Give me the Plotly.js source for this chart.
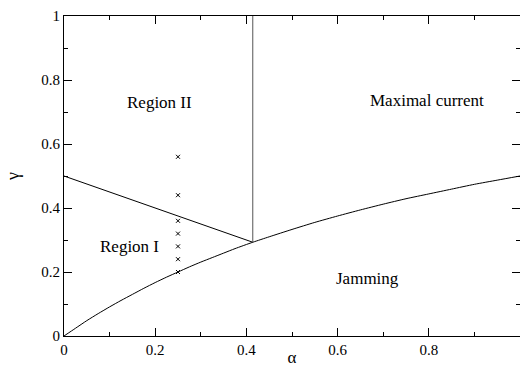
<!DOCTYPE html>
<html><head><meta charset="utf-8">
<script src="https://cdn.plot.ly/plotly-3.0.1.min.js"></script>
<style>html,body{margin:0;padding:0;background:#fff}#c{width:520px;height:367px}</style>
</head><body><div id="c"></div>
<script>
// Lower boundary curve (Region I / Jamming)
const curveAlpha = [0, 0.025, 0.05, 0.075, 0.1, 0.125, 0.15, 0.175, 0.2, 0.225, 0.25, 0.275, 0.3, 0.325, 0.35, 0.375, 0.414,
  0.45, 0.5, 0.55, 0.6, 0.65, 0.7, 0.75, 0.8, 0.85, 0.9, 0.95, 1.0];
const curveGamma = [0, 0.024, 0.048, 0.070, 0.091, 0.111, 0.130, 0.149, 0.167, 0.184, 0.200, 0.216, 0.231, 0.245, 0.259, 0.273, 0.293,
  0.310, 0.333, 0.355, 0.375, 0.394, 0.412, 0.429, 0.444, 0.459, 0.474, 0.487, 0.5];
// Region I / Region II boundary
const lineAlpha = [0, 0.414];
const lineGamma = [0.5, 0.293];
// Vertical boundary to maximal current
const vertAlpha = [0.414, 0.414];
const vertGamma = [0.293, 1];
// Simulation points
const markAlpha = [0.25, 0.25, 0.25, 0.25, 0.25, 0.25, 0.25];
const markGamma = [0.2, 0.24, 0.28, 0.32, 0.36, 0.44, 0.56];
// Region labels
const labelText = ["Region II", "Maximal current", "Region I", "Jamming"];
const labelAlpha = [0.21, 0.797, 0.143, 0.666];
const labelGamma = [0.73, 0.735, 0.28, 0.18];
const xTicks = [0, 0.2, 0.4, 0.6, 0.8];
const xTickText = ["0", "0.2", "0.4", "0.6", "0.8"];
const yTicks = [0, 0.2, 0.4, 0.6, 0.8, 1];
const yTickText = ["0", "0.2", "0.4", "0.6", "0.8", "1"];

const FAM = 'Liberation Serif';
const traces = [
  {x: curveAlpha, y: curveGamma, mode: 'lines', line: {color: '#000', width: 1, shape: 'spline', smoothing: 0.6}, hoverinfo: 'skip'},
  {x: lineAlpha, y: lineGamma, mode: 'lines', line: {color: '#000', width: 1}, hoverinfo: 'skip'},
  {x: vertAlpha, y: vertGamma, mode: 'lines', line: {color: '#555', width: 1}, hoverinfo: 'skip'},
  {x: markAlpha, y: markGamma, mode: 'markers',
   marker: {symbol: 'x-thin', size: 4, line: {color: '#000', width: 1}}, hoverinfo: 'skip'}
];
const annotations = [];
for (let i = 0; i < labelText.length; i++) {
  annotations.push({x: labelAlpha[i], y: labelGamma[i], text: labelText[i], showarrow: false,
    xref: 'x', yref: 'y', font: {family: FAM, size: 17, color: '#000'}});
}
const layout = {
  width: 520, height: 367,
  margin: {l: 64, r: 0, t: 16, b: 31, pad: 0},
  showlegend: false,
  font: {family: FAM, size: 15, color: '#000'},
  paper_bgcolor: '#fff', plot_bgcolor: '#fff',
  xaxis: {
    range: [0, 1], tickmode: 'array', tickvals: xTicks, ticktext: xTickText,
    showgrid: false, zeroline: false, showline: true, linecolor: '#000', linewidth: 1,
    mirror: 'allticks', ticks: 'inside', ticklen: 8, tickcolor: '#000', tickwidth: 1,
    tickfont: {family: FAM, size: 15, color: '#000'},
    minor: {dtick: 0.1, ticks: 'inside', ticklen: 4, tickcolor: '#000', tickwidth: 1, showgrid: false},
    title: {text: 'α', standoff: 1, font: {family: FAM, size: 17, color: '#000'}}
  },
  yaxis: {
    range: [0, 1], tickmode: 'array', tickvals: yTicks, ticktext: yTickText,
    showgrid: false, zeroline: false, showline: true, linecolor: '#000', linewidth: 1,
    mirror: 'allticks', ticks: 'inside', ticklen: 8, tickcolor: '#000', tickwidth: 1,
    tickfont: {family: FAM, size: 15, color: '#000'},
    minor: {dtick: 0.1, ticks: 'inside', ticklen: 4, tickcolor: '#000', tickwidth: 1, showgrid: false},
    title: {text: 'γ', standoff: 16, font: {family: FAM, size: 18, color: '#000'}}
  },
  annotations: annotations
};
Plotly.newPlot('c', traces, layout, {displayModeBar: false});
</script></body></html>
